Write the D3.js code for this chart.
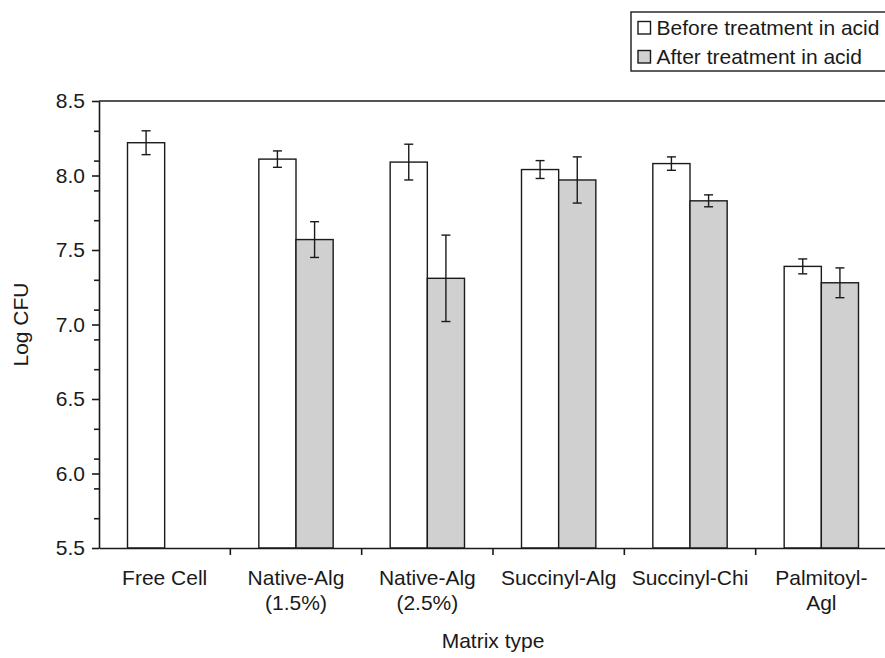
<!DOCTYPE html>
<html>
<head>
<meta charset="utf-8">
<script src="https://cdn.jsdelivr.net/npm/d3@7"></script>
<style>
  body { margin: 0; background: #fff; }
  svg { display: block; }
  text { font-family: "Liberation Sans", Arial, Helvetica, sans-serif; fill: #1a1a1a; }
</style>
</head>
<body>
<script>
var categories = ['Free Cell', 'Native-Alg\n(1.5%)', 'Native-Alg\n(2.5%)', 'Succinyl-Alg', 'Succinyl-Chi', 'Palmitoyl-\nAgl'];
var seriesNames = ['Before treatment in acid', 'After treatment in acid'];
var before = [8.22, 8.11, 8.09, 8.04, 8.08, 7.39];
var beforeErr = [0.08, 0.055, 0.12, 0.06, 0.045, 0.05];
var after = [null, 7.57, 7.31, 7.97, 7.83, 7.28];
var afterErr = [null, 0.12, 0.29, 0.155, 0.04, 0.10];
var yTicks = [5.5, 6.0, 6.5, 7.0, 7.5, 8.0, 8.5];
var yMinorTicks = [5.7, 5.9, 6.1, 6.3, 6.7, 6.9, 7.1, 7.3, 7.7, 7.9, 8.1, 8.3];

var width = 885, height = 658;
var ink = '#1a1a1a';
var fills = ['#ffffff', '#cfd0cf'];
var fontSize = 21;

var plotLeft = 99, plotRight = 887, plotTop = 101, plotBottom = 548;

var svg = d3.select('body').append('svg')
  .attr('width', width)
  .attr('height', height);

var x = d3.scaleBand().domain(categories).range([plotLeft, plotRight]).padding(0);
var gap = x.bandwidth() * 0.217;
var x1 = d3.scaleBand().domain([0, 1]).range([gap, x.bandwidth() - gap]).padding(0);
var y = d3.scaleLinear().domain([5.5, 8.5]).range([plotBottom, plotTop]);

// rows: one per bar
var rows = [];
categories.forEach(function(c, i) {
  rows.push({cat: c, s: 0, value: before[i], err: beforeErr[i]});
  if (after[i] !== null) {
    rows.push({cat: c, s: 1, value: after[i], err: afterErr[i]});
  }
});

// frame: top line
svg.append('line')
  .attr('x1', plotLeft).attr('x2', plotRight)
  .attr('y1', plotTop).attr('y2', plotTop)
  .attr('stroke', ink).attr('stroke-width', 1.6);

// bars
var bars = svg.append('g');
bars.selectAll('rect.bar')
  .data(rows)
  .enter().append('rect')
  .attr('class', 'bar')
  .attr('x', function(d) { return x(d.cat) + x1(d.s); })
  .attr('width', x1.bandwidth())
  .attr('y', function(d) { return y(d.value); })
  .attr('height', function(d) { return y(5.5) - y(d.value); })
  .attr('fill', function(d) { return fills[d.s]; })
  .attr('stroke', ink)
  .attr('stroke-width', 1.4);

// error bars
var errs = svg.append('g').attr('stroke', ink).attr('stroke-width', 1.4);
var cx = function(d) { return x(d.cat) + x1(d.s) + x1.bandwidth() / 2; };
errs.selectAll('line.stem')
  .data(rows)
  .enter().append('line')
  .attr('x1', cx).attr('x2', cx)
  .attr('y1', function(d) { return y(d.value + d.err); })
  .attr('y2', function(d) { return y(d.value - d.err); });
[1, -1].forEach(function(sign) {
  errs.selectAll('line.cap' + sign)
    .data(rows)
    .enter().append('line')
    .attr('x1', function(d) { return cx(d) - 4.5; })
    .attr('x2', function(d) { return cx(d) + 4.5; })
    .attr('y1', function(d) { return y(d.value + sign * d.err); })
    .attr('y2', function(d) { return y(d.value + sign * d.err); });
});

// y axis
var yAxis = svg.append('g')
  .attr('transform', 'translate(' + plotLeft + ',0)')
  .call(d3.axisLeft(y).tickValues(yTicks).tickFormat(d3.format('.1f')).tickSize(7).tickPadding(7).tickSizeOuter(0));
svg.append('g')
  .attr('transform', 'translate(' + plotLeft + ',0)')
  .call(d3.axisLeft(y).tickValues(yMinorTicks).tickFormat('').tickSize(5).tickSizeOuter(0))
  .call(function(g) { g.select('.domain').remove(); });

// x axis: ticks on category boundaries
var xAxis = svg.append('g')
  .attr('transform', 'translate(0,' + plotBottom + ')')
  .call(d3.axisBottom(x).tickSize(0).tickSizeOuter(0).tickFormat(''));
xAxis.selectAll('.tick').remove();
xAxis.selectAll('line.sep')
  .data(categories.slice(1))
  .enter().append('line')
  .attr('x1', function(d) { return x(d); })
  .attr('x2', function(d) { return x(d); })
  .attr('y1', 0).attr('y2', 7);

[yAxis, xAxis].forEach(function(g) {
  g.selectAll('.domain, line').attr('stroke', ink).attr('stroke-width', 1.6);
  g.selectAll('text').attr('font-size', fontSize).attr('font-family', null).attr('fill', ink);
});
svg.selectAll('.tick line').attr('stroke', ink).attr('stroke-width', 1.6);

// category labels
var catLabels = svg.append('g').selectAll('text')
  .data(categories)
  .enter().append('text')
  .attr('text-anchor', 'middle')
  .attr('font-size', fontSize);
catLabels.each(function(d) {
  var t = d3.select(this);
  d.split('\n').forEach(function(line, i) {
    t.append('tspan')
      .attr('x', x(d) + x.bandwidth() / 2)
      .attr('y', 585 + i * 25)
      .text(line);
  });
});

// axis titles
svg.append('text')
  .attr('x', (plotLeft + plotRight) / 2)
  .attr('y', 648)
  .attr('text-anchor', 'middle')
  .attr('font-size', fontSize)
  .text('Matrix type');
svg.append('text')
  .attr('transform', 'translate(28,' + (plotTop + plotBottom) / 2 + ') rotate(-90)')
  .attr('text-anchor', 'middle')
  .attr('font-size', fontSize)
  .text('Log CFU');

// legend
var legend = svg.append('g');
legend.append('rect')
  .attr('x', 631).attr('y', 12)
  .attr('width', 270).attr('height', 59)
  .attr('fill', '#fff').attr('stroke', ink).attr('stroke-width', 1.4);
var items = legend.selectAll('g.item')
  .data(seriesNames)
  .enter().append('g')
  .attr('transform', function(d, i) { return 'translate(0,' + (i * 29) + ')'; });
items.append('rect')
  .attr('x', 638).attr('y', 21.5)
  .attr('width', 12.5).attr('height', 12.5)
  .attr('fill', function(d, i) { return fills[i]; })
  .attr('stroke', ink).attr('stroke-width', 1.4);
items.append('text')
  .attr('x', 656.5).attr('y', 35)
  .attr('font-size', fontSize)
  .text(function(d) { return d; });
</script>
</body>
</html>
